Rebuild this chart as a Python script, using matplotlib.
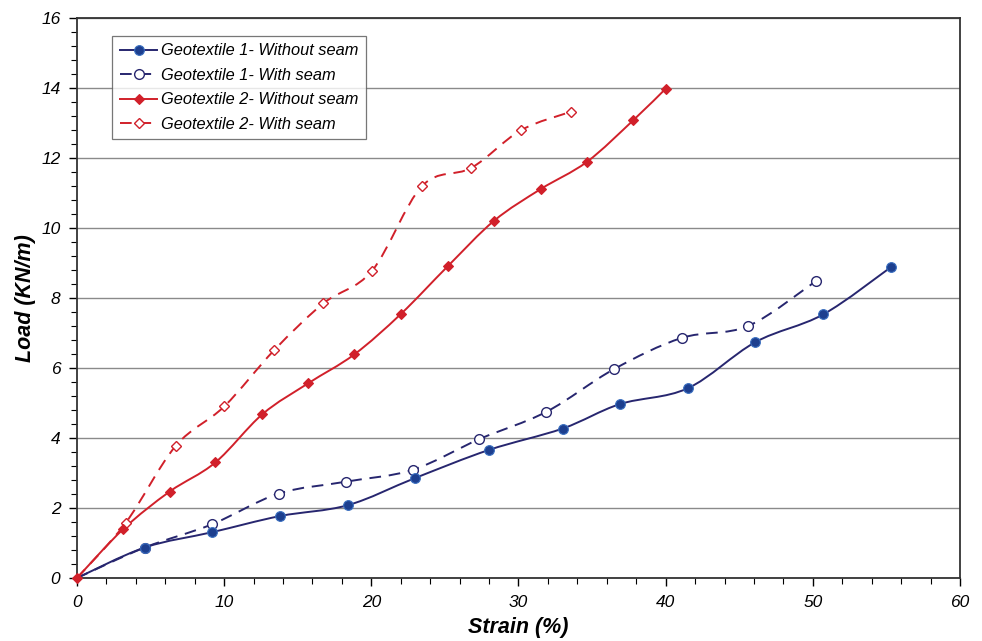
import numpy as np
import matplotlib
matplotlib.use("Agg")
import matplotlib.pyplot as plt
from matplotlib.path import Path
from matplotlib.patches import PathPatch
from matplotlib.lines import Line2D
from matplotlib.ticker import MultipleLocator

plt.rcParams["font.family"] = ["Liberation Sans", "DejaVu Sans"]

# ------------------------------------------------------------
# Data: strain (%) vs load (kN/m)
# ------------------------------------------------------------
g1_plain_strain = [0, 4.6, 9.2, 13.8, 18.4, 23.0, 28.0, 33.0, 36.9, 41.5, 46.1, 50.7, 55.3]
g1_plain_load = [0, 0.87, 1.31, 1.77, 2.08, 2.86, 3.66, 4.27, 4.97, 5.42, 6.74, 7.53, 8.88]

g1_seam_strain = [0, 4.6, 9.15, 13.7, 18.25, 22.8, 27.35, 31.9, 36.5, 41.1, 45.6, 50.2]
g1_seam_load = [0, 0.87, 1.53, 2.41, 2.75, 3.09, 3.97, 4.75, 5.97, 6.86, 7.20, 8.48]

g2_plain_strain = [0, 3.15, 6.3, 9.4, 12.6, 15.7, 18.85, 22.0, 25.2, 28.35, 31.5, 34.65, 37.8, 40.0]
g2_plain_load = [0, 1.40, 2.47, 3.30, 4.68, 5.56, 6.39, 7.54, 8.91, 10.21, 11.11, 11.89, 13.08, 13.98]

g2_seam_strain = [0, 3.3, 6.7, 10.0, 13.4, 16.75, 20.05, 23.45, 26.8, 30.15, 33.55]
g2_seam_load = [0, 1.57, 3.77, 4.90, 6.51, 7.85, 8.78, 11.20, 11.72, 12.79, 13.32]

labels = [
    "Geotextile 1- Without seam",
    "Geotextile 1- With seam",
    "Geotextile 2- Without seam",
    "Geotextile 2- With seam",
]

NAVY = "#27266f"
NAVY_MK = "#1d3f8f"
RED = "#d1202a"


def smooth_path(x, y):
    """Cubic Bezier path through the points (Catmull-Rom style tangents)."""
    p = np.column_stack([x, y]).astype(float)
    n = len(p)
    verts = [p[0]]
    codes = [Path.MOVETO]
    for i in range(n - 1):
        p0 = p[i - 1] if i > 0 else p[i]
        p1 = p[i]
        p2 = p[i + 1]
        p3 = p[i + 2] if i + 2 < n else p[i + 1]
        c1 = p1 + (p2 - p0) / 6.0
        c2 = p2 - (p3 - p1) / 6.0
        verts += [c1, c2, p2]
        codes += [Path.CURVE4] * 3
    return Path(verts, codes)


fig = plt.figure(figsize=(9.82, 6.41), dpi=100)
ax = fig.add_axes([0.0784, 0.0983, 0.8992, 0.8736])

DASH = (0, (6, 4))
# (x, y, colour, linestyle, marker style, zorder); the shared origin point
# is marked only once, by the red series drawn on top
series = [
    (g1_plain_strain, g1_plain_load, NAVY, "-",
     dict(marker="o", ms=7, mfc=NAVY_MK, mec="#3a6fc0", mew=0.8), 5, slice(1, None)),
    (g1_seam_strain, g1_seam_load, NAVY, DASH,
     dict(marker="o", ms=7, mfc="white", mec=NAVY, mew=1.0), 4, slice(1, None)),
    (g2_plain_strain, g2_plain_load, RED, "-",
     dict(marker="D", ms=5.5, mfc=RED, mec=RED, mew=0.8), 7, None),
    (g2_seam_strain, g2_seam_load, RED, DASH,
     dict(marker="D", ms=5.5, mfc="white", mec=RED, mew=1.0), 6, slice(1, None)),
]

handles = []
for (x, y, col, ls, mk, z, every), lab in zip(series, labels):
    patch = PathPatch(smooth_path(x, y), facecolor="none", edgecolor=col,
                      lw=1.4, linestyle=ls, zorder=3)
    ax.add_patch(patch)
    ax.plot(x, y, linestyle="none", zorder=z, clip_on=False, markevery=every, **mk)
    handles.append(Line2D([], [], color=col, lw=1.4, linestyle=ls, **mk))

# Axes, ticks and grid
ax.set_xlim(0, 60)
ax.set_ylim(0, 16)
ax.xaxis.set_major_locator(MultipleLocator(10))
ax.xaxis.set_minor_locator(MultipleLocator(2))
ax.yaxis.set_major_locator(MultipleLocator(2))
ax.yaxis.set_minor_locator(MultipleLocator(0.4))
ax.tick_params(which="major", direction="out", length=6, width=1.0,
               labelsize=12.5, pad=6)
ax.tick_params(which="minor", direction="out", length=4, width=0.8)
for lbl in ax.get_xticklabels() + ax.get_yticklabels():
    lbl.set_fontstyle("italic")

ax.grid(axis="y", which="major", color="#8a8a8a", lw=1.0)
ax.set_axisbelow(True)
for s in ax.spines.values():
    s.set_linewidth(1.3)
    s.set_color("#333333")

ax.set_xlabel("Strain (%)", fontsize=15.5, fontweight="bold", fontstyle="italic", labelpad=5)
ax.set_ylabel("Load (KN/m)", fontsize=15.5, fontweight="bold", fontstyle="italic", labelpad=4)

leg = ax.legend(handles, labels, loc="upper left", bbox_to_anchor=(0.04, 0.968),
                prop={"style": "italic", "size": 11.8},
                frameon=True, fancybox=False, borderpad=0.45, labelspacing=0.58,
                handlelength=2.3, handletextpad=0.25, borderaxespad=0)
leg.get_frame().set_edgecolor("#555555")
leg.get_frame().set_linewidth(0.9)
leg.set_zorder(10)

fig.savefig("out.png", dpi=100)
